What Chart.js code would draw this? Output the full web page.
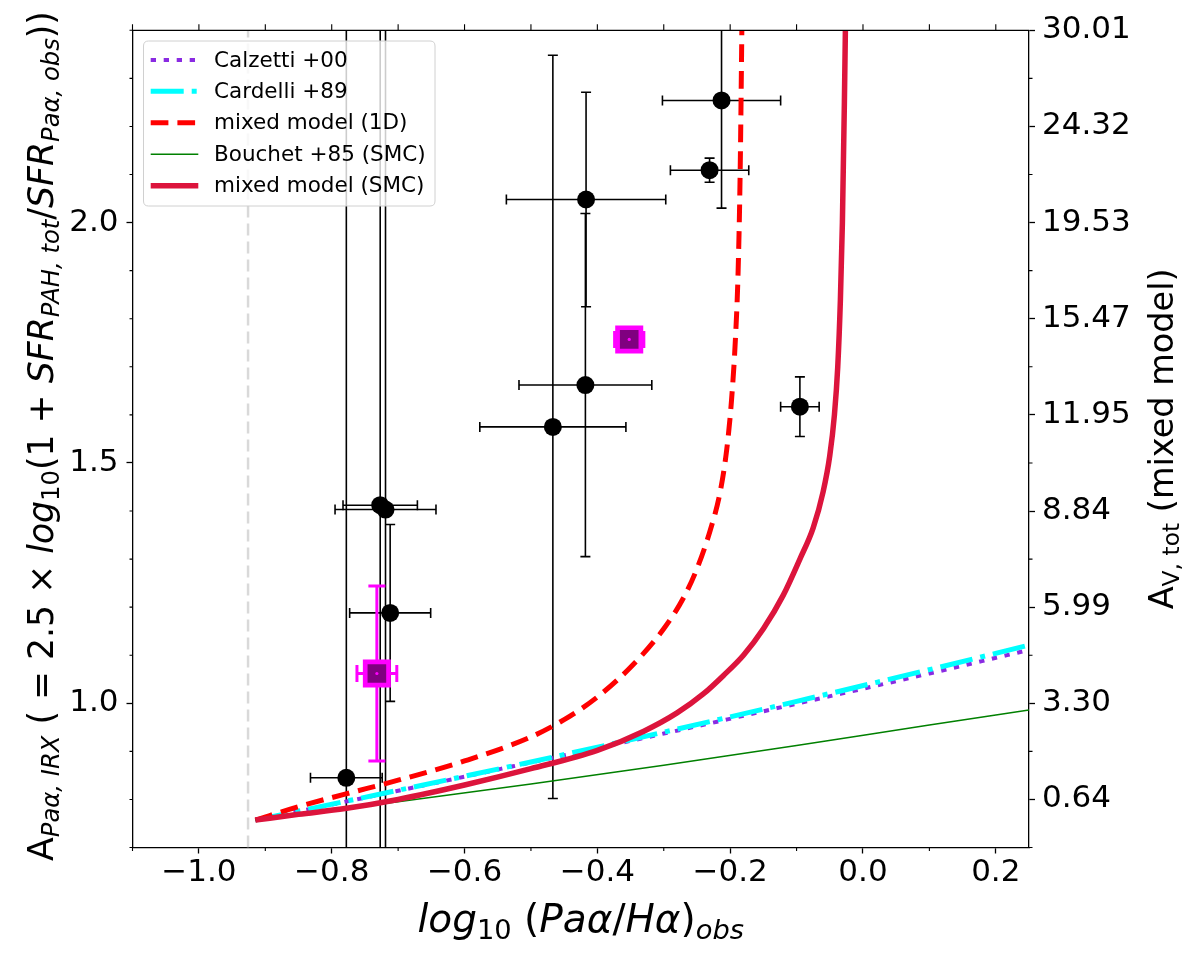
<!DOCTYPE html>
<html><head><meta charset="utf-8">
<script src="https://cdn.jsdelivr.net/npm/chart.js@4.4.1/dist/chart.umd.min.js"></script>
<style>html,body{margin:0;padding:0;background:#fff}#wrap{width:1200px;height:960px;position:relative}</style>
</head><body><div id="wrap"><canvas id="c" width="1200" height="960"></canvas></div>
<script>
// ---------------- data ----------------
const xMin = -1.1, xMax = 0.25, yMin = 0.7, yMax = 2.4;
const xTickValues = [-1.0, -0.8, -0.6, -0.4, -0.2, 0.0, 0.2];
const xTickLabels = ['\u22121.0', '\u22120.8', '\u22120.6', '\u22120.4', '\u22120.2', '0.0', '0.2'];
const xMinorTicks = [-1.1, -0.9, -0.7, -0.5, -0.3, -0.1, 0.1];
const topTicks = [-1.1, -1.0, -0.9, -0.8, -0.7, -0.6, -0.5, -0.4, -0.3, -0.2, -0.1, 0.0, 0.1, 0.2];
const yTickValues = [1.0, 1.5, 2.0];
const yTickLabels = ['1.0', '1.5', '2.0'];
const yMinorTicks = [0.7, 0.8, 0.9, 1.1, 1.2, 1.3, 1.4, 1.6, 1.7, 1.8, 1.9, 2.1, 2.2, 2.3, 2.4];
const avTickValues = [0.8, 1.0, 1.2, 1.4, 1.6, 1.8, 2.0, 2.2, 2.4];
const avTickLabels = ['0.64', '3.30', '5.99', '8.84', '11.95', '15.47', '19.53', '24.32', '30.01'];
const avMinorTicks = [0.7, 0.9, 1.1, 1.3, 1.5, 1.7, 1.9, 2.1, 2.3];

const intrinsicLogRatio = -0.926;

const calzettiX = [-0.915, -0.7, -0.5, -0.3, -0.1, 0.1, 0.25];
const calzettiY = [0.757, 0.818, 0.877, 0.937, 0.999, 1.062, 1.111];
const cardelliX = [-0.915, -0.7, -0.5, -0.3, -0.1, 0.1, 0.25];
const cardelliY = [0.757, 0.819, 0.878, 0.940, 1.004, 1.070, 1.121];
const bouchetX = [-0.915, -0.7, -0.5, -0.3, -0.1, 0.1, 0.25];
const bouchetY = [0.757, 0.795, 0.832, 0.871, 0.912, 0.955, 0.986];
const mixed1DX = [-0.915, -0.85, -0.78, -0.7, -0.6, -0.5, -0.45, -0.4, -0.35, -0.3, -0.27, -0.25, -0.23, -0.215, -0.205, -0.198, -0.192, -0.188, -0.185, -0.182];
const mixed1DY = [0.757, 0.785, 0.811, 0.840, 0.880, 0.930, 0.966, 1.013, 1.075, 1.155, 1.220, 1.280, 1.360, 1.440, 1.530, 1.630, 1.760, 1.900, 2.100, 2.450];
const mixedSMCX = [-0.915, -0.85, -0.78, -0.7, -0.6, -0.5, -0.4, -0.33, -0.28, -0.24, -0.21, -0.18, -0.15, -0.12, -0.095, -0.075, -0.06, -0.05, -0.043, -0.038, -0.034, -0.031, -0.028, -0.026];
const mixedSMCY = [0.757, 0.769, 0.781, 0.800, 0.830, 0.864, 0.902, 0.942, 0.980, 1.020, 1.058, 1.100, 1.155, 1.225, 1.300, 1.365, 1.440, 1.515, 1.600, 1.700, 1.840, 2.000, 2.250, 2.450];

const blackX = [-0.213, -0.231, -0.417, -0.418, -0.467, -0.095, -0.727, -0.719, -0.712, -0.778];
const blackY = [2.254, 2.109, 2.048, 1.662, 1.575, 1.617, 1.412, 1.403, 1.188, 0.845];
const blackXErr = [0.089, 0.059, 0.120, 0.100, 0.110, 0.029, 0.056, 0.076, 0.061, 0.054];
const blackYErr = [0.224, 0.025, 0.223, 0.357, 0.773, 0.062, 1.300, 1.300, 0.184, 1.800];

const magX = [-0.352, -0.732];
const magY = [1.757, 1.062];
const magXErr = [0.022, 0.030];
const magYErr = [0.012, 0.182];

const legendLabels = ['Calzetti +00', 'Cardelli +89', 'mixed model (1D)', 'Bouchet +85 (SMC)', 'mixed model (SMC)'];

// ---------------- helpers ----------------
const FONT = '"DejaVu Sans", "Liberation Sans", sans-serif';
Chart.defaults.font.family = FONT;
Chart.defaults.color = '#000';
const pts = (xs, ys) => xs.map((v, i) => ({x: v, y: ys[i]}));

const curveStyles = [
  {label: legendLabels[0], color: '#8a2be2', width: 4, dash: [5.3, 7.7], order: 5},
  {label: legendLabels[1], color: '#00ffff', width: 5, dash: [33, 8, 5, 8], order: 4},
  {label: legendLabels[2], color: '#ff0000', width: 5, dash: [17.7, 9], order: 3},
  {label: legendLabels[3], color: '#008000', width: 1.5, dash: [], order: 2},
  {label: legendLabels[4], color: '#dc143c', width: 5.5, dash: [], order: 1}
];
const curveData = [pts(calzettiX, calzettiY), pts(cardelliX, cardelliY), pts(mixed1DX, mixed1DY), pts(bouchetX, bouchetY), pts(mixedSMCX, mixedSMCY)];

const curveDatasets = curveStyles.map((s, i) => ({
  label: s.label, data: curveData[i], showLine: true, pointRadius: 0, pointHoverRadius: 0,
  borderColor: s.color, borderWidth: s.width, borderDash: s.dash, fill: false,
  cubicInterpolationMode: 'monotone', order: s.order, clip: 0, yAxisID: 'y'
}));

function richFont(s, size) {
  const sz = s.sub ? size * 0.7 : size;
  return (s.it ? 'italic ' : '') + sz + 'px ' + FONT;
}
function richWidth(ctx, segs, size) {
  let w = 0;
  for (const s of segs) { ctx.font = richFont(s, size); w += ctx.measureText(s.t).width; }
  return w;
}
function drawRich(ctx, segs, size, cx, by) {
  const w = richWidth(ctx, segs, size);
  let x = cx - w / 2;
  ctx.textAlign = 'left'; ctx.textBaseline = 'alphabetic'; ctx.fillStyle = '#000';
  for (const s of segs) {
    ctx.font = richFont(s, size);
    ctx.fillText(s.t, x, by + (s.sub ? size * 0.18 : 0));
    x += ctx.measureText(s.t).width;
  }
}
const xTitle = [{t: 'log', it: 1}, {t: '10', sub: 1}, {t: ' ('}, {t: 'Pa\u03b1', it: 1}, {t: '/'}, {t: 'H\u03b1', it: 1}, {t: ')'}, {t: 'obs', it: 1, sub: 1}];
const yTitle = [{t: 'A'}, {t: 'Pa\u03b1, IRX', it: 1, sub: 1}, {t: ' ( = 2.5 \u00d7 '}, {t: 'log', it: 1}, {t: '10', sub: 1},
  {t: '(1 + '}, {t: 'SFR', it: 1}, {t: 'PAH, tot', it: 1, sub: 1}, {t: '/'}, {t: 'SFR', it: 1}, {t: 'Pa\u03b1, obs', it: 1, sub: 1}, {t: '))'}];
const y2Title = [{t: 'A'}, {t: 'V, tot', sub: 1}, {t: ' (mixed model)'}];

const decorPlugin = {
  id: 'decor',
  beforeDatasetsDraw(chart) {
    const {ctx, chartArea: a, scales} = chart;
    const x = scales.x, y = scales.y;
    ctx.save();
    ctx.beginPath(); ctx.rect(a.left, a.top, a.right - a.left, a.bottom - a.top); ctx.clip();
    const drawErr = (X, Y, XE, YE, color, lw, cap) => {
      ctx.strokeStyle = color; ctx.lineWidth = lw; ctx.setLineDash([]);
      for (let i = 0; i < X.length; i++) {
        const px = x.getPixelForValue(X[i]), py = y.getPixelForValue(Y[i]);
        const x0 = x.getPixelForValue(X[i] - XE[i]), x1 = x.getPixelForValue(X[i] + XE[i]);
        const y0 = y.getPixelForValue(Y[i] - YE[i]), y1 = y.getPixelForValue(Y[i] + YE[i]);
        ctx.beginPath();
        ctx.moveTo(x0, py); ctx.lineTo(x1, py);
        ctx.moveTo(px, y0); ctx.lineTo(px, y1);
        ctx.moveTo(x0, py - cap); ctx.lineTo(x0, py + cap);
        ctx.moveTo(x1, py - cap); ctx.lineTo(x1, py + cap);
        ctx.moveTo(px - cap, y0); ctx.lineTo(px + cap, y0);
        ctx.moveTo(px - cap, y1); ctx.lineTo(px + cap, y1);
        ctx.stroke();
      }
    };
    drawErr(blackX, blackY, blackXErr, blackYErr, '#000', 1.6, 5);
    drawErr(magX, magY, magXErr, magYErr, '#ff00ff', 3, 8.5);
    ctx.restore();
  },
  afterDraw(chart) {
    const {ctx, chartArea: a, scales} = chart;
    const x = scales.x, y = scales.y, y2 = scales.y2;
    ctx.save();
    ctx.strokeStyle = '#000'; ctx.lineWidth = 1.3; ctx.setLineDash([]);
    // top spine
    ctx.beginPath(); ctx.moveTo(a.left, a.top); ctx.lineTo(a.right, a.top); ctx.stroke();
    ctx.lineWidth = 1.1;
    ctx.beginPath();
    for (const v of xMinorTicks) { const p = x.getPixelForValue(v); ctx.moveTo(p, a.bottom); ctx.lineTo(p, a.bottom + 3.5); }
    for (const v of topTicks) { const p = x.getPixelForValue(v); ctx.moveTo(p, a.top); ctx.lineTo(p, a.top - 6); }
    for (const v of yMinorTicks) { const p = y.getPixelForValue(v); ctx.moveTo(a.left, p); ctx.lineTo(a.left - 3, p); }
    for (const v of avMinorTicks) { const p = y2.getPixelForValue(v); ctx.moveTo(a.right, p); ctx.lineTo(a.right + 3.5, p); }
    ctx.stroke();

    // titles
    drawRich(ctx, xTitle, 39, (a.left + a.right) / 2, 932);
    const yTitleSize = 38 * 850 / richWidth(ctx, yTitle, 38);
    ctx.save(); ctx.translate(53, 436); ctx.rotate(-Math.PI / 2);
    drawRich(ctx, yTitle, yTitleSize, 0, 0); ctx.restore();
    ctx.save(); ctx.translate(1173, (a.top + a.bottom) / 2); ctx.rotate(-Math.PI / 2);
    drawRich(ctx, y2Title, 33.5, 0, 0); ctx.restore();

    // legend
    const L = 143.5, T = 41, W = 291.5, H = 165, r = 5;
    ctx.beginPath();
    ctx.moveTo(L + r, T); ctx.lineTo(L + W - r, T); ctx.quadraticCurveTo(L + W, T, L + W, T + r);
    ctx.lineTo(L + W, T + H - r); ctx.quadraticCurveTo(L + W, T + H, L + W - r, T + H);
    ctx.lineTo(L + r, T + H); ctx.quadraticCurveTo(L, T + H, L, T + H - r);
    ctx.lineTo(L, T + r); ctx.quadraticCurveTo(L, T, L + r, T); ctx.closePath();
    ctx.fillStyle = 'rgba(255,255,255,0.8)'; ctx.fill();
    ctx.strokeStyle = '#d0d0d0'; ctx.lineWidth = 1; ctx.stroke();
    const rows = [60, 91.2, 122.7, 154.2, 185.7];
    curveStyles.forEach((s, i) => {
      ctx.beginPath(); ctx.strokeStyle = s.color; ctx.lineWidth = s.width; ctx.setLineDash(s.dash);
      ctx.lineCap = 'butt';
      ctx.moveTo(150.7, rows[i]); ctx.lineTo(198.3, rows[i]); ctx.stroke();
      ctx.setLineDash([]);
      ctx.fillStyle = '#000'; ctx.font = '21.5px ' + FONT; ctx.textAlign = 'left'; ctx.textBaseline = 'middle';
      ctx.fillText(s.label, 214, rows[i] + 1);
    });
    ctx.restore();
  }
};

const tickFont = {size: 31, family: FONT};
const config = {
  type: 'scatter',
  data: {
    datasets: [
      ...curveDatasets,
      {label: 'magdot', data: pts(magX, magY), pointStyle: 'circle', pointRadius: 1.6, backgroundColor: '#ff00ff', borderWidth: 0, order: 6, yAxisID: 'y'},
      {label: 'mag', data: pts(magX, magY), pointStyle: 'rect', pointRadius: 16.5, backgroundColor: '#800080', borderColor: '#ff00ff', borderWidth: 4.7, order: 7, yAxisID: 'y'},
      {label: 'black', data: pts(blackX, blackY), pointStyle: 'circle', pointRadius: 9, backgroundColor: '#000', borderWidth: 0, order: 8, yAxisID: 'y'},
      {label: 'intrinsic', data: [{x: intrinsicLogRatio, y: yMin}, {x: intrinsicLogRatio, y: yMax}], showLine: true, pointRadius: 0,
        borderColor: '#d9d9d9', borderWidth: 2.5, borderDash: [12, 6], order: 9, clip: 0, yAxisID: 'y'}
    ]
  },
  options: {
    responsive: false, animation: false, devicePixelRatio: 1,
    layout: {padding: {top: 30.3, left: 0, right: 0, bottom: 0}},
    plugins: {legend: {display: false}, tooltip: {enabled: false}},
    events: [],
    scales: {
      x: {
        type: 'linear', position: 'bottom', min: xMin, max: xMax,
        afterBuildTicks: s => { s.ticks = xTickValues.map(v => ({value: v})); },
        afterFit: s => { s.height = 112.5; },
        ticks: {font: tickFont, color: '#000', padding: 1, autoSkip: false, maxRotation: 0, callback: (v, i) => xTickLabels[i]},
        grid: {display: true, drawOnChartArea: false, drawTicks: true, tickLength: 6, tickWidth: 1.3, tickColor: '#000'},
        border: {display: true, color: '#000', width: 1.3}
      },
      y: {
        type: 'linear', position: 'left', min: yMin, max: yMax,
        afterBuildTicks: s => { s.ticks = yTickValues.map(v => ({value: v})); },
        afterFit: s => { s.width = 132.5; },
        ticks: {font: tickFont, color: '#000', padding: 8, autoSkip: false, callback: (v, i) => yTickLabels[i]},
        grid: {display: true, drawOnChartArea: false, drawTicks: true, tickLength: 6, tickWidth: 1.3, tickColor: '#000'},
        border: {display: true, color: '#000', width: 1.3}
      },
      y2: {
        type: 'linear', position: 'right', min: yMin, max: yMax,
        afterBuildTicks: s => { s.ticks = avTickValues.map(v => ({value: v})); },
        afterFit: s => { s.width = 171; },
        ticks: {font: tickFont, color: '#000', padding: 7, autoSkip: false, callback: (v, i) => avTickLabels[i]},
        grid: {display: true, drawOnChartArea: false, drawTicks: true, tickLength: 6, tickWidth: 1.3, tickColor: '#000'},
        border: {display: true, color: '#000', width: 1.3}
      }
    }
  },
  plugins: [decorPlugin]
};
new Chart(document.getElementById('c'), config);
</script>
</body></html>
